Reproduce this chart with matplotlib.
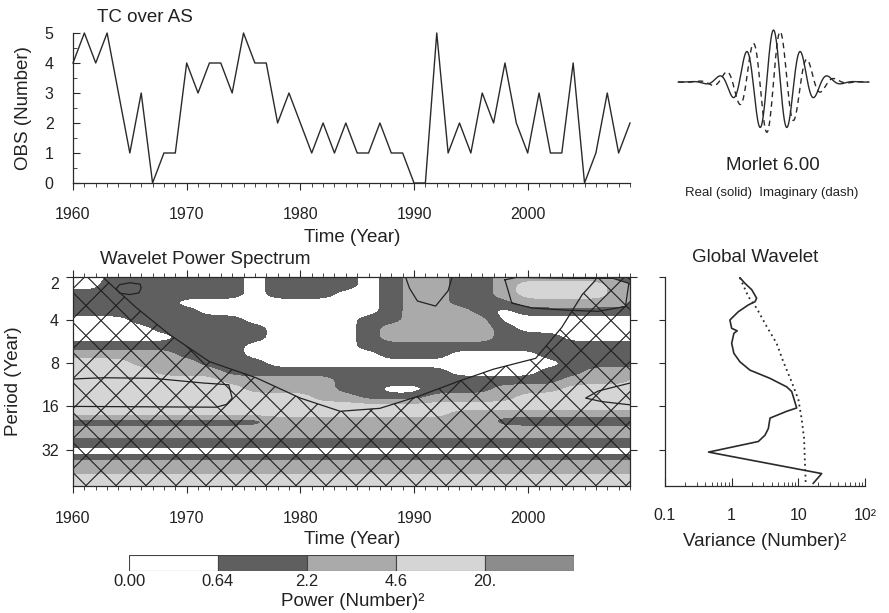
import numpy as np
import matplotlib
matplotlib.use("Agg")
import matplotlib.pyplot as plt
from matplotlib.patches import Polygon, Rectangle
from matplotlib.ticker import FixedLocator, NullLocator, MultipleLocator, FixedFormatter, LogLocator, NullFormatter

plt.rcParams['font.family'] = ['Liberation Sans', 'DejaVu Sans']

# ---------------- data ----------------
years = list(range(1960, 2010))
tc_obs = [4, 5, 4, 5, 3, 1, 3, 0, 1, 1,
          4, 3, 4, 4, 3, 5, 4, 4, 2, 3,
          2, 1, 2, 1, 2, 1, 1, 2, 1, 1,
          0, 0, 5, 1, 2, 1, 3, 2, 4, 2,
          1, 3, 1, 1, 4, 0, 1, 3, 1, 2]

# power class read from the shading (0: <0.64, 1: 0.64-2.2, 2: 2.2-4.6, 3: 4.6-20, 4: >20)
grid_years = list(range(1960, 2011, 2))
grid_periods = [2.0, 2.3, 2.64, 3.03, 3.48, 4.0, 4.59, 5.28, 6.06, 6.96, 8.0, 9.19,
                10.6, 12.1, 13.9, 16.0, 17.75, 20.1, 23.9, 29.0, 33.1, 36.0, 40.2,
                44.6, 51.6, 57.7]
power_class_rows = [
    "00111111011110122112222211",
    "00211111011110122112333321",
    "11111111011100122112333321",
    "11111000000000122111222221",
    "11111100000000122210111111",
    "00011111000001122220000000",
    "00001111100001222221000000",
    "00000111100001222221110000",
    "11111111000001111111111111",
    "22222111000000111000011111",
    "33322211100000000000001111",
    "33332221111111111000011222",
    "33333332222211111111112223",
    "33333333222211001112223333",
    "33333333333221112222333333",
    "33333333333333333333333333",
    "33333333333333333222222222",
    "11111111122222222221111111",
    "22222222222222222222222222",
    "11111111111111111111111111",
    "00000000000000000000000000",
    "11111111111111111111111111",
    "22222222222222222222222222",
    "22222222222222222222222222",
    "33333333333333333333333333",
    "33333333333333333333333333",
]
power_levels = ["0.00", "0.64", "2.2", "4.6", "20."]
level_colors = ["#ffffff", "#5f5f5f", "#aaaaaa", "#d5d5d5", "#8c8c8c"]

# cone of influence (read)
coi_year = [1959.5, 1961.0, 1962.7, 1965.6, 1968.5, 1972.0, 1976.1, 1980.0, 1983.5,
            1987.0, 1990.5, 1993.9, 1997.0, 2000.7, 2003.0, 2004.8, 2005.9, 2007.5, 2009.5]
coi_period = [0.7, 1.2, 2.04, 3.3, 5.06, 7.8, 10.1, 14.0, 17.3,
              16.5, 13.5, 10.7, 8.8, 7.4, 4.5, 2.66, 2.14, 1.3, 0.7]

# significance contours (read)
sig_lines = [
    ([1963.8, 1964.1, 1965.0, 1965.9, 1966.0, 1965.8, 1965.0, 1964.1, 1963.8],
     [2.42, 2.27, 2.2, 2.25, 2.39, 2.59, 2.66, 2.6, 2.42]),
    ([1960.0, 1962.7, 1967.1, 1971.5, 1973.7, 1974.0, 1973.5, 1972.6, 1960.0],
     [10.3, 10.1, 10.2, 11.0, 11.3, 14.0, 15.5, 16.2, 16.0]),
    ([1989.2, 1989.6, 1990.3, 1991.9, 1993.0, 1993.4],
     [1.95, 2.4, 2.95, 3.2, 2.5, 1.95]),
    ([1998.0, 1998.6, 2000.4, 2003.5, 2006.2, 2008.6, 2008.9, 2007.5, 2004.0, 1999.0, 1998.0],
     [2.1, 3.05, 3.3, 3.42, 3.48, 3.22, 2.22, 2.05, 2.05, 2.02, 2.1]),
    ([2009.0, 2006.2, 2005.1, 2006.5, 2009.0],
     [11.0, 12.5, 14.0, 14.8, 15.6]),
]

# global wavelet spectrum (read)
gws_period = [2.03, 2.22, 2.46, 2.82, 2.98, 3.14, 3.5, 4.0, 4.57, 4.76, 4.95, 5.82,
              6.83, 7.82, 8.94, 10.2, 11.7, 12.6, 16.4, 17.3, 19.3, 22.8, 25.4,
              28.1, 33.3, 47.0, 55.0]
gws_power = [1.33, 1.58, 2.0, 2.37, 2.24, 1.78, 1.26, 0.94, 1.0, 1.21, 1.08, 1.0,
             1.08, 1.33, 1.88, 3.76, 6.7, 7.95, 9.45, 6.7, 3.76, 3.55, 3.16,
             2.51, 0.45, 22.4, 16.7]
sig_period = [2.03, 2.75, 3.31, 4.44, 5.82, 7.82, 10.8, 14.3, 19.5, 26.8, 41.0, 55.0]
sig_power = [1.33, 1.78, 2.37, 3.35, 4.73, 5.96, 7.95, 10.0, 11.2, 12.2, 12.6, 12.9]

morlet_omega0 = 6.00

# ---------------- figure ----------------
W, H = 889, 613
fig = plt.figure(figsize=(W / 100, H / 100), dpi=100)
TXT = "#222222"
LC = "#2a2a2a"


def axpx(l, t, r, b):
    return fig.add_axes([l / W, 1 - b / H, (r - l) / W, (b - t) / H])


def ptext(x, y, s, size, **kw):
    fig.text(x / W, 1 - y / H, s, fontsize=size, ha='center', va='center', color=TXT, **kw)


TICK_FS = 11.5
LAB_FS = 13.5

# ---- top time series ----
ax1 = axpx(73, 33, 630, 183)
ax1.plot(years, tc_obs, color=LC, lw=1.0, clip_on=False)
ax1.set_xlim(1960, 2009)
ax1.set_ylim(0, 5)
for s in ("top", "right"):
    ax1.spines[s].set_visible(False)
for s in ("left", "bottom"):
    ax1.spines[s].set_color(LC)
    ax1.spines[s].set_linewidth(0.9)
ax1.xaxis.set_major_locator(FixedLocator([1960, 1970, 1980, 1990, 2000]))
ax1.xaxis.set_minor_locator(MultipleLocator(1))
ax1.yaxis.set_major_locator(FixedLocator([0, 1, 2, 3, 4, 5]))
ax1.yaxis.set_minor_locator(MultipleLocator(0.5))
ax1.tick_params(axis='x', which='major', direction='out', length=5, pad=12,
                labelsize=TICK_FS, colors=LC, labelcolor=TXT)
ax1.tick_params(axis='x', which='minor', direction='out', length=3, colors=LC)
ax1.tick_params(axis='y', which='major', direction='in', length=5, pad=14,
                labelsize=TICK_FS, colors=LC, labelcolor=TXT)
ax1.tick_params(axis='y', which='minor', direction='in', length=3, colors=LC)
ptext(145, 17, "TC over AS", LAB_FS)
ptext(352, 237, "Time (Year)", LAB_FS)
ptext(24, 108, "OBS (Number)", LAB_FS, rotation=90)

# ---- Morlet wavelet ----
ax4 = axpx(677, 25, 870, 135)
t = np.linspace(-3.65, 3.65, 500)
psi = np.pi ** -0.25 * np.exp(-t ** 2 / 2) * np.exp(1j * morlet_omega0 * t)
ax4.plot(t, psi.real, color=LC, lw=1.0)
ax4.plot(t, psi.imag, color=LC, lw=1.0, ls=(0, (4, 3)))
ax4.set_xlim(-3.7, 3.7)
ax4.set_ylim(-0.766, 0.824)
ax4.axis('off')
ptext(773, 166, "Morlet %.2f" % morlet_omega0, LAB_FS)
ptext(772, 193, "Real (solid)  Imaginary (dash)", 9.5)

# ---- wavelet power spectrum ----
ax2 = axpx(73, 276.8, 630, 485.6)
Z = np.array([[int(c) for c in row] for row in power_class_rows], dtype=float)

# smooth the read class grid for display (bilinear resample in year / log-period, then gaussian blur)
fy = np.linspace(grid_years[0], grid_years[-1], 401)
gl = np.log2(grid_periods)
fl = np.linspace(gl[0], gl[-1], 241)
Zx = np.array([np.interp(fy, grid_years, row) for row in Z])
Zf = np.array([np.interp(fl, gl, Zx[:, j]) for j in range(len(fy))]).T


def blur(a, sigma, axis):
    r = int(3 * sigma) + 1
    k = np.exp(-0.5 * (np.arange(-r, r + 1) / sigma) ** 2)
    k /= k.sum()
    pad = [(0, 0), (0, 0)]
    pad[axis] = (r, r)
    ap = np.pad(a, pad, mode='edge')
    return np.apply_along_axis(lambda v: np.convolve(v, k, mode='valid'), axis, ap)


Zs = blur(blur(Zf, 6, 1), 2.5, 0)
ax2.contourf(fy, 2 ** fl, Zs, levels=[-0.5, 0.5, 1.5, 2.5, 3.5, 4.5], colors=level_colors)
for xs, ys in sig_lines:
    ax2.plot(xs, ys, color="#222222", lw=0.9)
ax2.set_yscale('log', base=2)
ax2.set_xlim(1960, 2009)
ax2.set_ylim(57, 2)

# cone of influence with cross hatching
poly = Polygon(np.column_stack([coi_year + [2009.5, 1959.5], coi_period + [200, 200]]),
               closed=True, facecolor='none', edgecolor='none', transform=ax2.transData)
ax2.add_patch(poly)
ax2.plot(coi_year, coi_period, color="#222222", lw=0.9)
axw, axh = 557.0, 208.8
step = 30.0 / axw
for u in np.arange(-1.0, 2.0, step):
    for sgn in (1, -1):
        ln, = ax2.plot([u, u + sgn * axh / axw], [0, 1], transform=ax2.transAxes,
                       color="#1e1e1e", lw=0.8)
        ln.set_clip_path(poly)

ax2.xaxis.set_major_locator(FixedLocator([1960, 1970, 1980, 1990, 2000]))
ax2.xaxis.set_minor_locator(MultipleLocator(1))
ax2.yaxis.set_major_locator(FixedLocator([2, 4, 8, 16, 32]))
ax2.yaxis.set_major_formatter(FixedFormatter(["2", "4", "8", "16", "32"]))
ax2.yaxis.set_minor_locator(NullLocator())
ax2.tick_params(axis='both', which='both', direction='out', top=True, right=True,
                colors=LC, labelcolor=TXT, labelsize=TICK_FS)
ax2.tick_params(axis='x', which='major', length=5, pad=13)
ax2.tick_params(axis='x', which='minor', length=3)
ax2.tick_params(axis='y', which='major', length=5, pad=5)
for s in ax2.spines.values():
    s.set_color(LC)
    s.set_linewidth(0.9)
fig.canvas.draw()
ax2.get_yticklabels()[0].set_va('top')
ptext(205, 260, "Wavelet Power Spectrum", LAB_FS)
ptext(352, 539, "Time (Year)", LAB_FS)
ptext(14, 381, "Period (Year)", LAB_FS, rotation=90)

# ---- colorbar ----
cax = axpx(129, 555, 574, 571)
for i, c in enumerate(level_colors):
    cax.add_patch(Rectangle((i, 0), 1, 1, facecolor=c, edgecolor="#444444", lw=0.8))
cax.set_xlim(0, 5)
cax.set_ylim(0, 1)
cax.axis('off')
for i, lab in enumerate(power_levels):
    ptext(129 + i * 89, 582, lab, 12)
ptext(353, 601, "Power (Number)\u00b2", LAB_FS)

# ---- global wavelet ----
ax3 = axpx(665, 276.8, 865, 485.6)
ax3.plot(gws_power, gws_period, color=LC, lw=1.2)
ax3.plot(sig_power, sig_period, color=LC, lw=1.3, ls=(0, (1, 2)))
ax3.set_xscale('log')
ax3.set_yscale('log', base=2)
ax3.set_xlim(0.1, 100)
ax3.set_ylim(57, 2)
for s in ("top", "right"):
    ax3.spines[s].set_visible(False)
for s in ("left", "bottom"):
    ax3.spines[s].set_color(LC)
    ax3.spines[s].set_linewidth(0.9)
ax3.yaxis.set_major_locator(FixedLocator([2, 4, 8, 16, 32]))
ax3.yaxis.set_major_formatter(NullFormatter())
ax3.yaxis.set_minor_locator(NullLocator())
ax3.xaxis.set_major_locator(FixedLocator([0.1, 1, 10, 100]))
ax3.xaxis.set_major_formatter(FixedFormatter(["0.1", "1", "10", "10\u00b2"]))
ax3.xaxis.set_minor_locator(LogLocator(base=10, subs=np.arange(2, 10)))
ax3.xaxis.set_minor_formatter(NullFormatter())
ax3.tick_params(axis='x', which='major', direction='in', length=6, pad=16,
                labelsize=TICK_FS, colors=LC, labelcolor=TXT)
ax3.tick_params(axis='x', which='minor', direction='in', length=3, colors=LC)
ax3.tick_params(axis='y', which='major', direction='out', length=4, colors=LC)
ptext(755, 257, "Global Wavelet", LAB_FS)
ptext(765, 541, "Variance (Number)\u00b2", LAB_FS)

fig.savefig("out.png", dpi=100)
